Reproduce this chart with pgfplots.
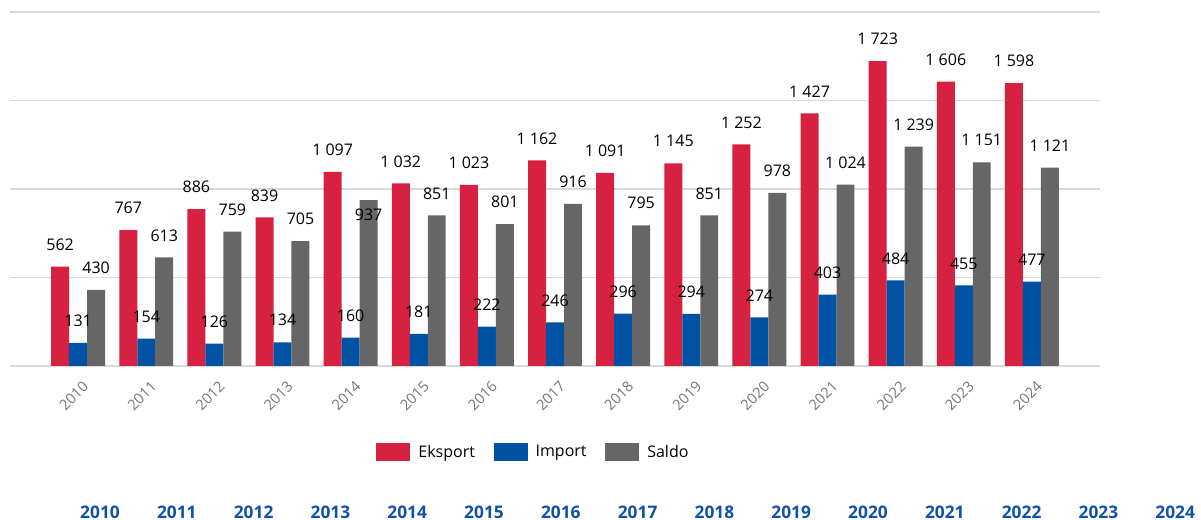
\documentclass[border=0pt]{standalone}
\usepackage{fontspec}
\setmainfont{Open Sans}
\usepackage{pgfplots}
\pgfplotsset{compat=1.18}
\usepackage{pgfplotstable}

\definecolor{eksred}{RGB}{214,33,64}
\definecolor{impblue}{RGB}{0,82,165}
\definecolor{saldogray}{RGB}{102,102,102}
\definecolor{gridgray}{RGB}{217,217,217}
\definecolor{ticklab}{RGB}{118,118,118}
\definecolor{yearblue}{RGB}{16,82,165}

\pgfplotstableread{
x eks imp sal offs
0 562 131 430 16.5
1 767 154 613 16.5
2 886 126 759 16.5
3 839 134 705 16.5
4 1097 160 937 -11
5 1032 181 851 16.5
6 1023 222 801 16.5
7 1162 246 916 16.5
8 1091 296 795 16.5
9 1145 294 851 16.5
10 1252 274 978 16.5
11 1427 403 1024 16.5
12 1723 484 1239 16.5
13 1606 455 1151 16.5
14 1598 477 1121 16.5
}\data

\begin{document}
\begin{tikzpicture}[x=1pt,y=1pt]
\useasboundingbox (0,0) rectangle (900.75,390);
\begin{axis}[
  at={(7.5pt,115.5pt)}, anchor=south west,
  scale only axis, width=817.5pt, height=265.5pt,
  xmin=-1, xmax=15, ymin=0, ymax=2000,
  axis line style={draw=none},
  major tick length=0pt, tick style={draw=none},
  ymajorgrids, grid style={gridgray, line width=1pt},
  ytick={0,500,1000,1500,2000}, yticklabels={},
  xtick={0,...,14},
  xticklabels={2010,2011,2012,2013,2014,2015,2016,2017,2018,2019,2020,2021,2022,2023,2024},
  xticklabel style={font=\fontsize{11}{13}\selectfont, text=ticklab, rotate=45, anchor=east, xshift=-2pt, yshift=-13.5pt},
  ybar=0pt, bar width=0.264,
  nodes near coords,
  every node near coord/.append style={font=\fontsize{12}{14}\selectfont, text=black, anchor=center, yshift=16.5pt},
  /pgf/number format/.cd, fixed, precision=0, 1000 sep={\ }, assume math mode=true, /pgfplots/.cd,
  legend columns=3,
  legend style={at={(0.4805,-0.243)}, anchor=center, draw=none, fill=none,
    font=\fontsize{12}{14}\selectfont,
    /tikz/every odd column/.append style={column sep=4pt},
    /tikz/every even column/.append style={column sep=12pt}},
  legend image code/.code={\fill[#1] (0pt,-6.5pt) rectangle (25.5pt,6.5pt);},
  clip=false,
]
\addplot[fill=eksred, draw=none] table[x=x, y=eks] {\data};
\addlegendentry{Eksport}
\addplot[fill=impblue, draw=none] table[x=x, y=imp] {\data};
\addlegendentry{Import}
\addplot[fill=saldogray, draw=none,
  visualization depends on={\thisrow{offs} \as \off},
  every node near coord/.append style={yshift=-16.5pt, yshift=\off pt}] table[x=x, y=sal] {\data};
\addlegendentry{Saldo}
\end{axis}
\foreach \yr [count=\k from 0] in {2010,2011,2012,2013,2014,2015,2016,2017,2018,2019,2020,2021,2022,2023,2024}
  \node[font=\bfseries\fontsize{13}{15}\selectfont, text=yearblue] at ({75+57.6*\k}, 6) {\yr};
\end{tikzpicture}
\end{document}
